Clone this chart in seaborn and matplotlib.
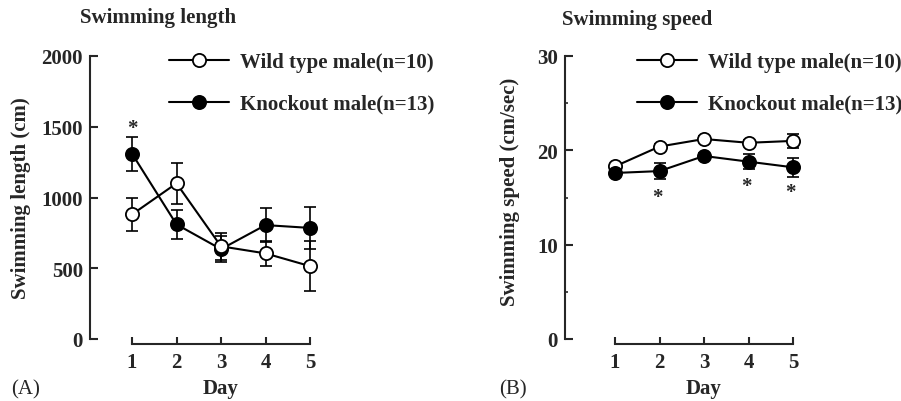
import matplotlib
matplotlib.use("Agg")
import matplotlib.pyplot as plt
from matplotlib.lines import Line2D
import seaborn as sns
import pandas as pd

# ---- data ----
days = [1, 2, 3, 4, 5]
length_wt = [880, 1100, 655, 605, 515]
length_wt_sem = [115, 145, 95, 90, 175]
length_ko = [1310, 810, 635, 805, 785]
length_ko_sem = [120, 105, 92, 118, 148]
speed_wt = [18.3, 20.4, 21.2, 20.8, 21.0]
speed_wt_sem = [0.3, 0.3, 0.3, 0.3, 0.7]
speed_ko = [17.6, 17.8, 19.4, 18.8, 18.2]
speed_ko_sem = [0.3, 0.85, 0.3, 0.8, 1.0]
length_star_days = [1]
length_star_y = [1490]
speed_star_days = [2, 4, 5]
speed_star_y = [15.1, 16.2, 15.6]
labels = ["Wild type male(n=10)", "Knockout male(n=13)"]

sns.set_style("ticks")
plt.rcParams["font.family"] = ["Liberation Serif", "DejaVu Serif"]
plt.rcParams["font.weight"] = "bold"

W, H = 901, 402
fig = plt.figure(figsize=(W / 100, H / 100), dpi=100)


def rect(l, r, t, b):
    return [l / W, 1 - b / H, (r - l) / W, (b - t) / H]


axA = fig.add_axes(rect(90, 323, 57, 340))
axB = fig.add_axes(rect(565, 806, 57, 340))

FS = 15


def panel(ax, wt, wt_sem, ko, ko_sem, ko_on_top):
    dwt = pd.DataFrame({"day": days, "v": wt})
    dko = pd.DataFrame({"day": days, "v": ko})
    zw, zk = (3, 4) if ko_on_top else (4, 3)
    ax.errorbar(days, wt, yerr=wt_sem, fmt="none", ecolor="black",
                elinewidth=1.2, capsize=4, capthick=1.2, zorder=2)
    ax.errorbar(days, ko, yerr=ko_sem, fmt="none", ecolor="black",
                elinewidth=1.2, capsize=4, capthick=1.2, zorder=2)
    sns.lineplot(data=dwt, x="day", y="v", ax=ax, color="black", lw=1.5,
                 marker="o", ms=9.5, mfc="white", mec="black", mew=1.3,
                 errorbar=None, zorder=zw)
    sns.lineplot(data=dko, x="day", y="v", ax=ax, color="black", lw=1.5,
                 marker="o", ms=9.5, mfc="black", mec="black", mew=1.3,
                 errorbar=None, zorder=zk)
    for s in ("top", "right"):
        ax.spines[s].set_visible(False)
    for s in ("left", "bottom"):
        ax.spines[s].set_linewidth(1.5)
    ax.spines["bottom"].set_position(("outward", 3.5))
    ax.spines["bottom"].set_bounds(1, 5)
    ax.set_xticks(days)
    ax.tick_params(axis="both", direction="in", width=1.5, labelsize=15)
    ax.tick_params(axis="y", length=6, pad=5)
    ax.tick_params(axis="x", length=5, pad=5.5)
    for t in ax.get_xticklabels() + ax.get_yticklabels():
        t.set_fontweight("bold")
    ax.set_xlabel("")
    handles = [
        Line2D([], [], color="black", lw=1.5, marker="o", ms=9.5,
               mfc="white", mec="black", mew=1.3),
        Line2D([], [], color="black", lw=1.5, marker="o", ms=9.5,
               mfc="black", mec="black", mew=1.3),
    ]
    return handles


hA = panel(axA, length_wt, length_wt_sem, length_ko, length_ko_sem, False)
axA.set_xlim(1 - 42 / 44.5, 5 + 13 / 44.5)
axA.set_ylim(0, 2000)
axA.spines["left"].set_bounds(0, 2000)
axA.set_yticks([0, 500, 1000, 1500, 2000])
for d, y in zip(length_star_days, length_star_y):
    axA.text(d, y, "*", ha="center", va="center", fontsize=15, fontweight="bold")

hB = panel(axB, speed_wt, speed_wt_sem, speed_ko, speed_ko_sem, True)
axB.set_xlim(1 - 50 / 44.5, 5 + 13 / 44.5)
axB.set_ylim(0, 30)
axB.spines["left"].set_bounds(0, 30)
axB.set_yticks([0, 10, 20, 30])
axB.set_yticks([5, 15, 25], minor=True)
axB.tick_params(axis="y", which="minor", direction="in", length=2.5, width=1.2)
for d, y in zip(speed_star_days, speed_star_y):
    axB.text(d - 0.05, y, "*", ha="center", va="center", fontsize=15, fontweight="bold")

for ax, lx in ((axA, 169), (axB, 637)):
    ax.legend(handles=hA, labels=labels, loc="upper left",
              bbox_to_anchor=(lx / W, 1 - 53 / H), bbox_transform=fig.transFigure,
              frameon=False, borderpad=0, borderaxespad=0, handlelength=2.9,
              handletextpad=0.5, labelspacing=1.05,
              prop={"size": FS, "weight": "bold"})

axA.set_ylabel("Swimming length (cm)", fontsize=FS, fontweight="bold")
axA.yaxis.set_label_coords((31 - 90) / 233, 0.5)
axB.set_ylabel("Swimming speed (cm/sec)", fontsize=FS, fontweight="bold")
axB.yaxis.set_label_coords((520 - 565) / 241, (340 - 191.5) / 283)

axA.set_xlabel("Day", fontsize=FS, fontweight="bold")
axA.xaxis.set_label_coords((3 - axA.get_xlim()[0]) / (axA.get_xlim()[1] - axA.get_xlim()[0]),
                           (340 - 379) / 283)
axB.set_xlabel("Day", fontsize=FS, fontweight="bold")
axB.xaxis.set_label_coords((3 - axB.get_xlim()[0]) / (axB.get_xlim()[1] - axB.get_xlim()[0]),
                           (340 - 379) / 283)

fig.text(80 / W, 1 - 18 / H, "Swimming length", ha="left", va="center",
         fontsize=FS, fontweight="bold")
fig.text(562 / W, 1 - 20 / H, "Swimming speed", ha="left", va="center",
         fontsize=FS, fontweight="bold")
fig.text(11 / W, 1 - 390 / H, "(A)", ha="left", va="center", fontsize=15,
         fontweight="normal")
fig.text(499 / W, 1 - 390 / H, "(B)", ha="left", va="center", fontsize=15,
         fontweight="normal")

fig.savefig("out.png", dpi=100)
